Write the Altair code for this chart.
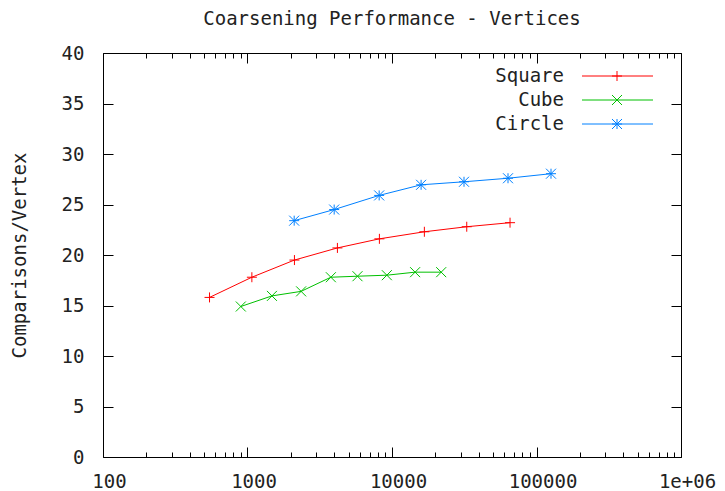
import altair as alt
import pandas as pd

# ---------------- data ----------------
series_names = ["Square", "Cube", "Circle"]
series_colors = ["#ff0000", "#00c000", "#0080ff"]

square_n = [546, 1072, 2113, 4190, 8180, 16750, 32900, 65600]
square_v = [15.8, 17.8, 19.5, 20.7, 21.6, 22.3, 22.8, 23.2]

cube_n = [899, 1476, 2350, 3775, 5770, 9210, 14450, 21900]
cube_v = [14.9, 15.95, 16.4, 17.8, 17.9, 18.0, 18.3, 18.3]

circle_n = [2104, 3980, 8150, 15900, 31500, 63500, 126000]
circle_v = [23.4, 24.5, 25.9, 26.95, 27.25, 27.6, 28.05]

x_major = [100, 1000, 10000, 100000, 1000000]
x_tick_labels = ["100", "1000", "10000", "100000", "1e+06"]
x_minor = [m * 10 ** k for k in range(2, 6) for m in range(2, 10)]
y_ticks = [0, 5, 10, 15, 20, 25, 30, 35, 40]

# gnuplot-like point glyphs: plus, cross, star (custom SVG paths)
shape_paths = [
    "M-1,0L1,0M0,-1L0,1",
    "M-1,-1L1,1M-1,1L1,-1",
    "M-1,0L1,0M0,-1L0,1M-1,-1L1,1M-1,1L1,-1",
]

rows = []
for name, ns, vs in zip(series_names, [square_n, cube_n, circle_n], [square_v, cube_v, circle_v]):
    for n, v in zip(ns, vs):
        rows.append({"series": name, "n": n, "v": v})
df = pd.DataFrame(rows)
legend_df = pd.DataFrame({"series": series_names, "row": [0, 1, 2]})

# ---------------- layout ----------------
W, H = 578, 404
FONT = "DejaVu Sans Mono"
FS = 19
TXT = "#222222"

label_expr = "[" + ",".join("'%s'" % t for t in x_tick_labels) + "][round(log(datum.value)/LN10)-2]"

base_axis = dict(grid=False, domainColor="black", tickColor="black", domainWidth=1,
                 tickWidth=1, labelFont=FONT, labelFontSize=FS,
                 labelColor=TXT, labelFlush=False, labelOverlap=False)


def xenc(axis):
    return alt.X("n:Q", scale=alt.Scale(type="log", domain=[100, 1000000], nice=False),
                 axis=axis)


def yenc(axis):
    return alt.Y("v:Q", scale=alt.Scale(domain=[0, 40], nice=False, zero=False), axis=axis)


color = alt.Color("series:N", scale=alt.Scale(domain=series_names, range=series_colors), legend=None)
shape = alt.Shape("series:N", scale=alt.Scale(domain=series_names, range=shape_paths), legend=None)

ax_bottom = alt.Axis(orient="bottom", values=x_major, ticks=False, tickSize=0, labelPadding=15,
                     labelOffset=6, labelExpr=label_expr, domain=True, title=None, **base_axis)
ax_left = alt.Axis(orient="left", values=y_ticks, ticks=False, tickSize=0, labelPadding=19,
                   format="d", domain=True, **base_axis,
                   title="Comparisons/Vertex", titleFont=FONT, titleFontSize=FS,
                   titleFontWeight="normal", titleColor=TXT, titleAngle=270,
                   titleX=-84, titleY=202, titleAlign="center", titleBaseline="middle")

tick_axis = dict(grid=False, labels=False, title=None, tickColor="black", tickWidth=1,
                 domainColor="black", domainWidth=1)

lines = alt.Chart(df).mark_line(strokeWidth=1).encode(
    x=xenc(ax_bottom), y=yenc(ax_left), color=color)

pts = alt.Chart(df).mark_point(filled=False, size=100, strokeWidth=1, opacity=1).encode(
    x=xenc(alt.Axis(orient="top", offset=-H, values=x_major, tickSize=10, domain=False, **tick_axis)),
    y=yenc(alt.Axis(orient="right", offset=-W, values=y_ticks, tickSize=10, domain=False, **tick_axis)),
    color=color, shape=shape)

carrier1 = alt.Chart(df).mark_point(opacity=0).encode(
    x=xenc(alt.Axis(orient="top", offset=-H, values=x_minor, tickSize=5, domain=False, **tick_axis)),
    y=yenc(alt.Axis(orient="left", offset=-W, values=y_ticks, tickSize=10, domain=True, **tick_axis)))

carrier2 = alt.Chart(df).mark_point(opacity=0).encode(
    x=xenc(alt.Axis(orient="bottom", offset=-H, values=x_major, tickSize=10, domain=True, **tick_axis)),
    y=yenc(None))

carrier3 = alt.Chart(df).mark_point(opacity=0).encode(
    x=xenc(alt.Axis(orient="bottom", offset=-H, values=x_minor, tickSize=5, domain=False, **tick_axis)),
    y=yenc(None))

# ---------------- gnuplot-style key ----------------
leg_y = alt.Y("row:Q", scale=alt.Scale(domain=[0, 2], range=[23, 71], nice=False, zero=False), axis=None)

leg_rule = alt.Chart(legend_df).mark_rule(strokeWidth=1).encode(
    x=alt.value(479), x2=alt.value(550), y=leg_y, color=color)
leg_pts = alt.Chart(legend_df).mark_point(filled=False, size=100, strokeWidth=1, opacity=1).encode(
    x=alt.value(514), y=leg_y, color=color, shape=shape)
leg_txt = alt.Chart(legend_df).mark_text(align="right", baseline="middle", font=FONT,
                                         fontSize=FS, color=TXT).encode(
    x=alt.value(461), y=leg_y, text="series:N")

chart = alt.layer(lines, pts, carrier1, carrier2, carrier3, leg_rule, leg_pts, leg_txt).resolve_scale(
    x="independent", y="independent"
).properties(
    width=W, height=H, autosize="none",
    padding={"left": 95, "top": 45, "right": 36, "bottom": 35},
    title=alt.TitleParams(text="Coarsening Performance - Vertices", font=FONT, fontSize=FS,
                          fontWeight="normal", color=TXT, anchor="middle", frame="group",
                          baseline="alphabetic", offset=0),
).configure_view(stroke=None)

chart.save("out.html", embed_options={"renderer": "svg", "actions": False})
